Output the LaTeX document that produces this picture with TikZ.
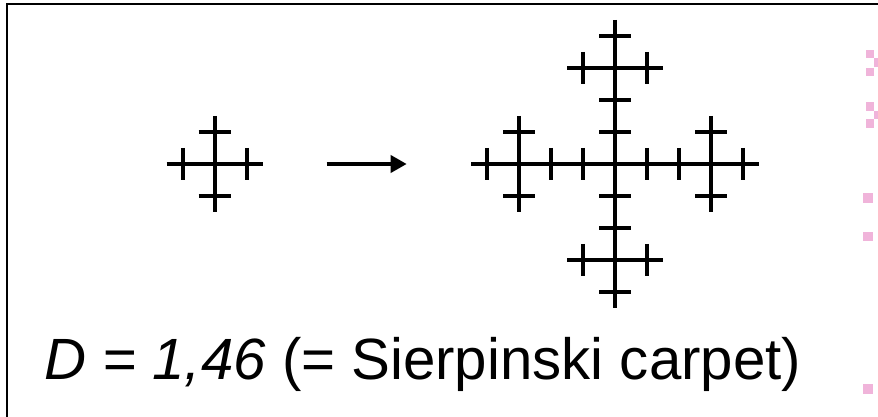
\documentclass[tikz,border=0pt]{standalone}
\usepackage{fontspec}
\setmainfont{Liberation Sans}
\usetikzlibrary{arrows.meta}
\definecolor{bulletpink}{RGB}{240,180,218}
\tikzset{
  fr/.style={line width=3.7pt, line cap=butt, black},
  frame/.style={line width=2.4pt, black},
  bullet/.style={fill=bulletpink, draw=none},
  lvlone/.pic={
    \draw[fr] (-48,0) -- (48,0);
    \draw[fr] (0,-48) -- (0,48);
    \draw[fr] (-32,-16) -- (-32,16);
    \draw[fr] (32,-16) -- (32,16);
    \draw[fr] (-16,-32) -- (16,-32);
    \draw[fr] (-16,32) -- (16,32);
  }
}
\begin{document}
\begin{tikzpicture}[x=1pt,y=-1pt]
\useasboundingbox (0,0) rectangle (878,417);
% frame (top and left edges visible)
\coordinate (fbl) at (7,417);
\coordinate (ftl) at (7,4);
\coordinate (ftr) at (878,4);
\draw[frame] (fbl) -- (ftl) -- (ftr);
% level-1 cross
\pic at (214.7,163.8) {lvlone};
% arrow
\coordinate (a1) at (326.7,164);
\coordinate (a2) at (406.7,164);
\draw[fr, -{Triangle[length=16pt,width=17pt]}] (a1) -- (a2);
% level-2 cross: five level-1 copies
\pic at (615,163.8) {lvlone};
\pic at (519,163.8) {lvlone};
\pic at (711,163.8) {lvlone};
\pic at (615,67.8) {lvlone};
\pic at (615,259.8) {lvlone};
% caption
\node[anchor=base west, inner sep=0pt] (cap) at (44,379)
  {\fontsize{58.2}{70}\selectfont\textit{D = 1,46} (= Sierpinski carpet)};
% pink bullet fragments at right edge
\fill[bullet] (866,50) rectangle (874,58.3);
\fill[bullet] (874,58.3) rectangle (882,67.5);
\fill[bullet] (866,67.7) rectangle (874,76);
\fill[bullet] (866,102.3) rectangle (874,110.7);
\fill[bullet] (874,110.7) rectangle (882,119);
\fill[bullet] (866,119.3) rectangle (874,128);
\fill[bullet] (863,193.3) rectangle (873,203);
\fill[bullet] (863,231.7) rectangle (873,241);
\fill[bullet] (863,383.7) rectangle (873,394);
\end{tikzpicture}
\end{document}
